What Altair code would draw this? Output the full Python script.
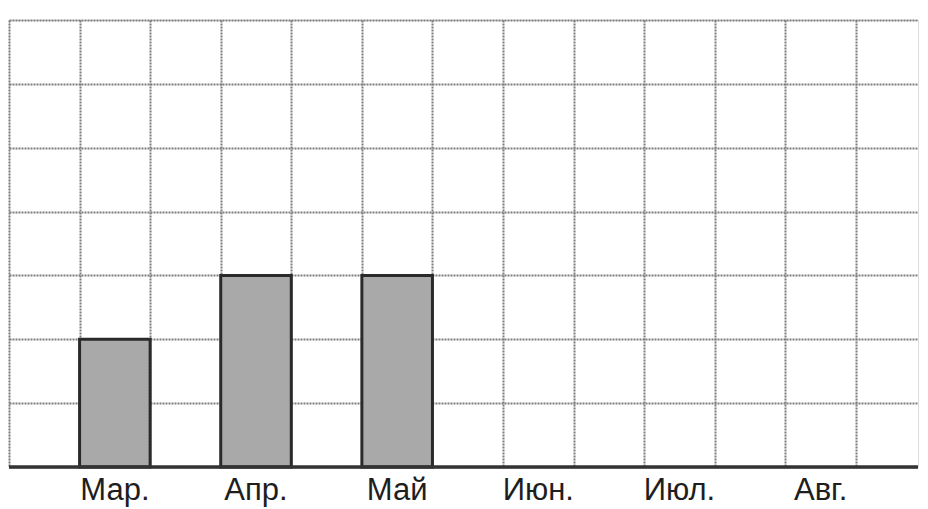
import altair as alt
import pandas as pd

months = ["Мар.", "Апр.", "Май", "Июн.", "Июл.", "Авг."]
bar_months = ["Мар.", "Апр.", "Май"]
bar_values = [2, 3, 3]

n_cols = 13
n_rows = 7
x_max = 12.88          # the right-most column is cut by the page edge
W, H = 909, 447

label_df = pd.DataFrame({"month": months, "xc": [1.5 + 2 * i for i in range(len(months))]})
bar_df = pd.DataFrame({
    "month": bar_months,
    "value": bar_values,
    "x0": [1 + 2 * i for i in range(len(bar_months))],
    "x1": [2 + 2 * i for i in range(len(bar_months))],
})

xs = alt.Scale(domain=[0, x_max], nice=False, zero=False)
ys = alt.Scale(domain=[0, n_rows], nice=False, zero=False)

grid_style = dict(grid=True, labels=False, ticks=False, domain=False, title=None,
                  gridColor="#7d7d7d", gridWidth=2, gridDash=[2, 1], gridOpacity=1)
x_axis = alt.Axis(values=list(range(n_cols)), **grid_style)
y_axis = alt.Axis(values=list(range(n_rows + 1)), **grid_style)

bars = alt.Chart(bar_df).mark_rect(
    color="#a9a9a9", stroke="#2a2a2a", strokeWidth=3
).encode(
    x=alt.X("x0:Q", scale=xs, axis=x_axis),
    x2="x1:Q",
    y=alt.Y("value:Q", scale=ys, axis=y_axis),
    y2=alt.datum(0),
)

baseline = alt.Chart(pd.DataFrame({"v": [0]})).mark_rule(
    color="#333333", strokeWidth=3.5
).encode(
    y=alt.Y("v:Q", scale=ys),
    x=alt.datum(0),
    x2=alt.datum(x_max),
)

labels = alt.Chart(label_df).mark_text(
    font="Liberation Sans", fontSize=31, color="#1e1e1e", baseline="alphabetic", align="center"
).encode(
    x=alt.X("xc:Q", scale=xs),
    y=alt.value(H + 33),
    text="month:N",
)

chart = alt.layer(bars, baseline, labels).properties(
    width=W, height=H,
    autosize=alt.AutoSizeParams(type="none"),
    padding={"left": 1, "top": 12, "right": 2, "bottom": 41},
).configure_view(stroke=None).configure(background="white")

chart.save("out.html", embed_options={"renderer": "svg", "actions": False})
